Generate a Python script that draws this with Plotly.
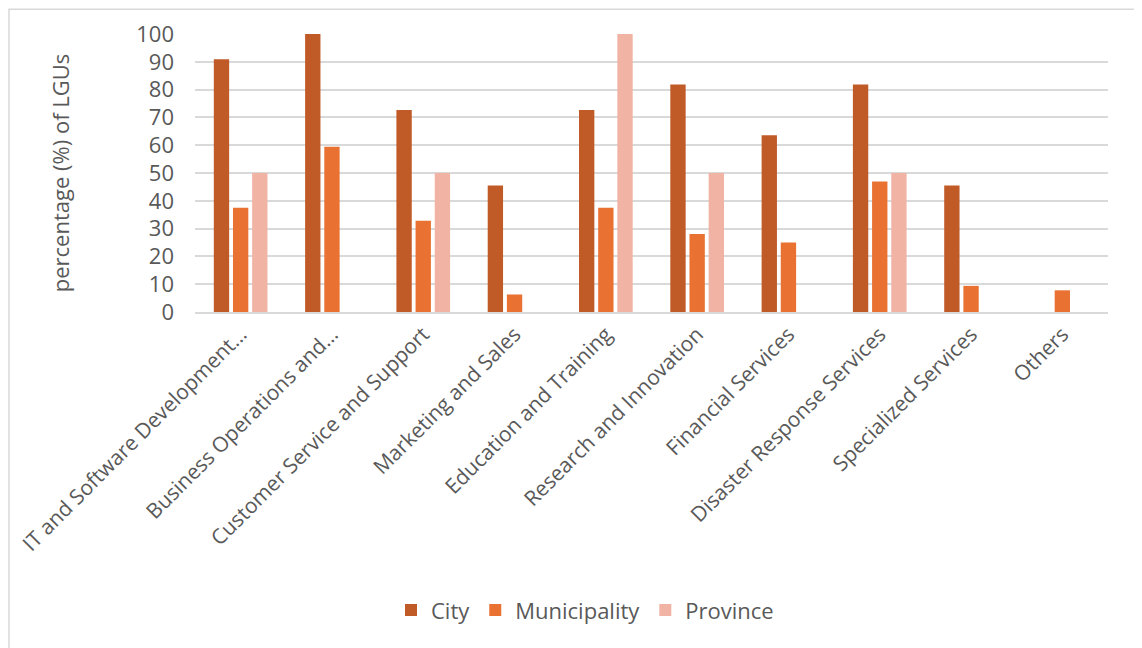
import plotly.graph_objects as go

categories = [
    "IT and Software Development…",
    "Business Operations and…",
    "Customer Service and Support",
    "Marketing and Sales",
    "Education and Training",
    "Research and Innovation",
    "Financial Services",
    "Disaster Response Services",
    "Specialized Services",
    "Others",
]
city = [90.9, 100, 72.7, 45.5, 72.7, 81.8, 63.6, 81.8, 45.5, 0]
municipality = [37.5, 59.4, 32.8, 6.3, 37.5, 28.1, 25.0, 46.9, 9.4, 7.8]
province = [50, 0, 50, 0, 100, 50, 0, 50, 0, 0]
y_ticks = [0, 10, 20, 30, 40, 50, 60, 70, 80, 90, 100]

series = [
    ("City", city, "#C05A27"),
    ("Municipality", municipality, "#E97132"),
    ("Province", province, "#F0B3A4"),
]

FONT = "Open Sans, Liberation Sans, Arial, sans-serif"
GRAY = "#595959"
FS = 22

fig = go.Figure()
for name, vals, color in series:
    fig.add_trace(go.Bar(
        x=categories, y=vals, name=name,
        marker=dict(color=color, line=dict(width=0)),
    ))

# page has an 8px body margin; work in page pixels and offset
OFF = 8
W, H = 1142, 648
plot_l, plot_r, plot_t, plot_b = 195, 1108, 33.7, 311.7
ml = plot_l - OFF
mt = plot_t - OFF
mr = W - plot_r + OFF
mb = H - plot_b + OFF
pw, ph = plot_r - plot_l, plot_b - plot_t

def px_x(x):
    return (x - plot_l) / pw

def px_y(y):
    return (plot_b - y) / ph

fig.update_layout(
    width=W, height=H,
    margin=dict(l=ml, r=mr, t=mt, b=mb, autoexpand=False),
    paper_bgcolor="white", plot_bgcolor="white",
    barmode="group", bargap=0.37, bargroupgap=0.2,
    font=dict(family=FONT, size=FS, color=GRAY),
    legend=dict(
        orientation="h", x=px_x(585), xanchor="center",
        y=px_y(610), yanchor="middle",
        font=dict(size=FS, color=GRAY),
        itemwidth=30, traceorder="normal",
    ),
    shapes=[dict(
        type="rect", xref="paper", yref="paper",
        x0=px_x(9), x1=px_x(1170), y0=px_y(670), y1=px_y(9),
        line=dict(color="#D9D9D9", width=1.5), layer="below",
    )],
)
fig.update_xaxes(
    tickangle=-45, showline=True, linecolor="#D9D9D9", linewidth=1.5,
    showgrid=False, ticks="", tickfont=dict(size=21, color=GRAY),
)
fig.update_yaxes(
    range=[0, 100], tickvals=y_ticks, showgrid=True, gridcolor="#D9D9D9",
    gridwidth=1.5, zeroline=False, showline=False, ticks="",
    ticklabelstandoff=20, tickfont=dict(size=FS, color=GRAY),
    title=dict(text="percentage (%) of LGUs", font=dict(size=FS, color=GRAY), standoff=60),
)

fig.write_html("out.html")
